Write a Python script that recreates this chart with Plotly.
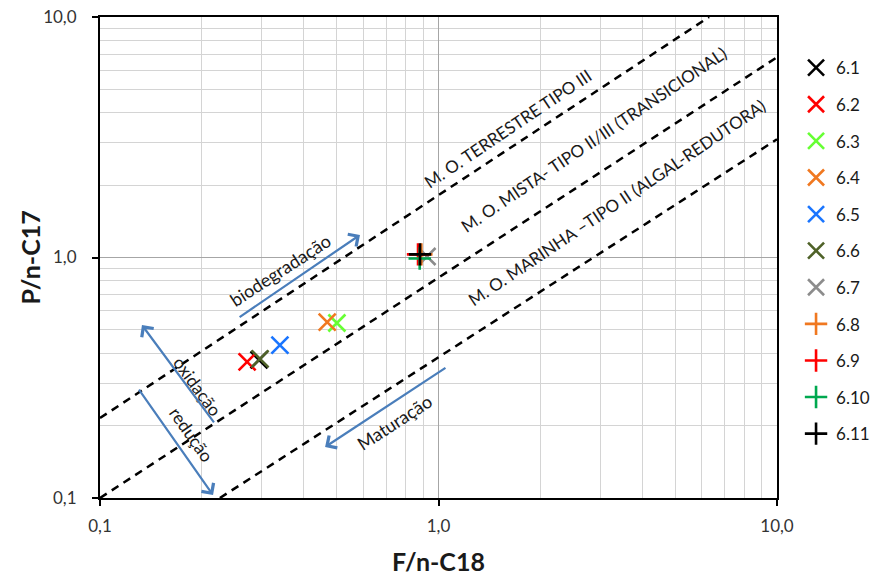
import plotly.graph_objects as go

# ---- data ----
series_names = ["6.1", "6.2", "6.3", "6.4", "6.5", "6.6", "6.7", "6.8", "6.9", "6.10", "6.11"]
f_nc18 = [0.295, 0.272, 0.501, 0.469, 0.340, 0.297, 0.925, 0.890, 0.870, 0.880, 0.882]
p_nc17 = [0.375, 0.368, 0.534, 0.539, 0.432, 0.379, 1.01, 1.03, 1.03, 0.99, 1.03]
symbols = ["x", "x", "x", "x", "x", "x", "x", "+", "+", "+", "+"]
colors = ["#000000", "#ff0000", "#66ff33", "#f07820", "#1a75ff", "#4f6228", "#8c8c8c",
          "#f07820", "#ff0000", "#00a84f", "#000000"]

# reference lines (endpoints in data units)
ref_x = [[0.1, 6.3], [0.1, 10.0], [0.226, 10.0]]
ref_y = [[0.215, 10.0], [0.1, 6.8], [0.1, 3.1]]

tick_vals = [0.1, 1, 10]
tick_text = ["0,1", "1,0", "10,0"]
minor_vals = [0.2, 0.3, 0.4, 0.5, 0.6, 0.7, 0.8, 0.9, 2, 3, 4, 5, 6, 7, 8, 9]

FONT = "Lato, 'Noto Sans', sans-serif"
ARROW = "#4a7ebb"
TXT = "#1a1a1a"

fig = go.Figure()

for xs, ys in zip(ref_x, ref_y):
    fig.add_trace(go.Scatter(x=xs, y=ys, mode="lines", showlegend=False, hoverinfo="skip",
                             line=dict(color="black", width=2.5, dash="8px,6px")))

for i, name in enumerate(series_names):
    sym = "x-thin" if symbols[i] == "x" else "cross-thin"
    fig.add_trace(go.Scatter(
        x=[f_nc18[i]], y=[p_nc17[i]], mode="markers", name=name, legendgroup=name,
        marker=dict(symbol=sym, size=17 if symbols[i] == "x" else 16,
                    line=dict(color=colors[i], width=2.6), color=colors[i])))

annotations = []
# text labels along the lines (positions in log10 data units)
labels = [
    ("M. O. TERRESTRE TIPO III", 0.205, 0.538, -34, 17),
    ("M. O. MISTA- TIPO II/III (TRANSICIONAL)", 0.459, 0.489, -34, 17),
    ("M. O. MARINHA –TIPO II (ALGAL-REDUTORA)", 0.527, 0.227, -34, 17),
    ("biodegradação", -0.468, -0.05, -33, 18),
    ("oxidação", -0.713, -0.538, 54, 17.5),
    ("redução", -0.731, -0.738, 55, 17.5),
    ("Maturação", -0.129, -0.684, -33, 18),
]
for txt, ax_, ay_, ang, sz in labels:
    annotations.append(dict(x=ax_, y=ay_, xref="x", yref="y", text=txt, showarrow=False,
                            textangle=ang, font=dict(family=FONT, size=sz, color=TXT)))

# arrows: (tail x, tail y, head x, head y) in log10 data units
arrows = [
    (-0.592, -0.252, -0.232, 0.094),
    (-0.660, -0.692, -0.876, -0.281),
    (-0.888, -0.543, -0.666, -0.988),
    (0.025, -0.455, -0.335, -0.788),
]
for tx, ty, hx, hy in arrows:
    annotations.append(dict(x=hx, y=hy, ax=tx, ay=ty, xref="x", yref="y", axref="x", ayref="y",
                            text="", showarrow=True, arrowhead=4, arrowsize=1.3,
                            arrowwidth=2.2, arrowcolor=ARROW))

# y-axis title as a rotated annotation (placed in the left margin)
annotations.append(dict(x=-0.1034, y=0.5, xref="paper", yref="paper", text="<b>P/n-C17</b>",
                        showarrow=False, textangle=-90, xanchor="center", yanchor="middle",
                        font=dict(family=FONT, size=25, color=TXT)))

axis_common = dict(
    type="log", range=[-1, 1], tickmode="array", tickvals=tick_vals, ticktext=tick_text,
    showgrid=True, gridcolor="#a6a6a6", gridwidth=1,
    showline=True, linecolor="black", linewidth=2, mirror=True,
    ticks="outside", ticklen=6, tickwidth=2, tickcolor="black",
    tickfont=dict(family=FONT, size=17, color="#333333"),
    minor=dict(tickmode="array", tickvals=minor_vals, showgrid=True,
               gridcolor="#d4d4d4", gridwidth=1, ticks=""),
    zeroline=False, automargin=False,
)

fig.update_layout(
    width=870, height=576,
    margin=dict(l=100, r=93, t=17, b=78, autoexpand=False),
    paper_bgcolor="white", plot_bgcolor="white",
    font=dict(family=FONT, color=TXT),
    xaxis=dict(axis_common, title=dict(text="<b>F/n-C18</b>", font=dict(size=25, family=FONT, color=TXT), standoff=18),
               ticklabelstandoff=6),
    yaxis=dict(axis_common, ticklabelstandoff=12),
    legend=dict(xref="container", yref="container", x=0.915, y=0.913, xanchor="left", yanchor="top",
                tracegroupgap=11.5, font=dict(family=FONT, size=17, color=TXT), itemwidth=30,
                bgcolor="rgba(0,0,0,0)", maxheight=540),
    annotations=annotations,
    showlegend=True,
)

fig.write_html("out.html", config={"displayModeBar": False},
               post_script="document.body.style.margin='0';")
